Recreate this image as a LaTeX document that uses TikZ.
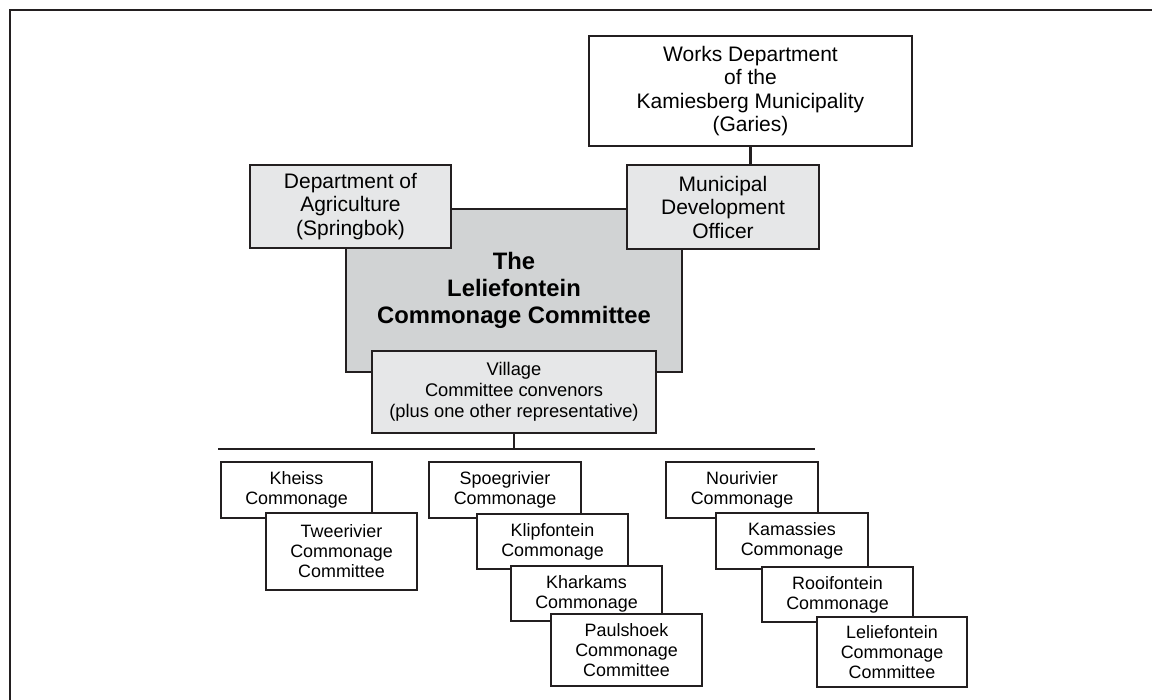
\documentclass[tikz,border=0pt]{standalone}
\usepackage{fontspec}
\setmainfont{Liberation Sans}
\definecolor{lightbox}{HTML}{E6E7E8}
\definecolor{midbox}{HTML}{D1D3D4}
\definecolor{ink}{HTML}{231F20}
\begin{document}
\begin{tikzpicture}[x=1pt,y=-1pt,
  thickbox/.style={draw=ink, line width=2.6pt, fill=lightbox, inner sep=0pt, align=center},
  mainbox/.style={thickbox, fill=midbox, font=\fontsize{23.8}{27}\selectfont\bfseries},
  upfont/.style={font=\fontsize{21}{23.5}\selectfont},
  vilfont/.style={font=\fontsize{18.3}{21}\selectfont},
  thinbox/.style={draw=ink, line width=1.3pt, fill=white, inner sep=0pt, align=center, font=\fontsize{17.9}{20}\selectfont},
  link/.style={draw=ink, line width=2.6pt}]
\useasboundingbox (0,0) rectangle (1152,700);
\fill[white] (0,0) rectangle (1152,700);
\draw[ink, line width=2.6pt] (10,700) -- (10,10) -- (1152,10);

% upper part
\node[thinbox, upfont, minimum width=323pt, minimum height=110pt] (works) at (750.5,91)
  {Works Department\\of the\\Kamiesberg Municipality\\(Garies)};
\node[mainbox, minimum width=336pt, minimum height=163pt] (main) at (514,290.5)
  {The\\Leliefontein\\Commonage Committee};
\node[thickbox, upfont, minimum width=201pt, minimum height=83pt] (agri) at (350.5,206.5)
  {Department of\\Agriculture\\(Springbok)};
\node[thickbox, upfont, minimum width=192pt, minimum height=84pt] (muni) at (723,207)
  {Municipal\\Development\\Officer};
\node[thickbox, vilfont, minimum width=284pt, minimum height=82pt] (village) at (514,392)
  {Village\\Committee convenors\\(plus one other representative)};
\draw[link] (works.south) -- (works.south |- muni.north);

\coordinate (hl) at (218,449);
\coordinate (hr) at (815,449);
\draw[link] (hl) -- (hr);
\draw[link] (village.south) -- (village.south |- hl);

% lower part
\node[thinbox, minimum width=151pt, minimum height=56pt] (kheiss) at (296.5,490) {Kheiss\\Commonage};
\node[thinbox, minimum width=151pt, minimum height=77pt] (twee) at (341.5,551.5) {Tweerivier\\Commonage\\Committee};

\node[thinbox, minimum width=152pt, minimum height=56pt] (spoeg) at (505,490) {Spoegrivier\\Commonage};
\node[thinbox, minimum width=151pt, minimum height=55pt] (klip) at (552.5,541.5) {Klipfontein\\Commonage};
\node[thinbox, minimum width=151pt, minimum height=55pt] (khar) at (586.5,593.5) {Kharkams\\Commonage};
\node[thinbox, minimum width=151pt, minimum height=72pt] (paul) at (626.5,650) {Paulshoek\\Commonage\\Committee};

\node[thinbox, minimum width=152pt, minimum height=56pt] (nouri) at (742,490) {Nourivier\\Commonage};
\node[thinbox, minimum width=152pt, minimum height=56pt] (kama) at (792,541) {Kamassies\\Commonage};
\node[thinbox, minimum width=151pt, minimum height=55pt] (rooi) at (837.5,594.5) {Rooifontein\\Commonage};
\node[thinbox, minimum width=150pt, minimum height=70pt] (lelie) at (892,652) {Leliefontein\\Commonage\\Committee};
\end{tikzpicture}
\end{document}
